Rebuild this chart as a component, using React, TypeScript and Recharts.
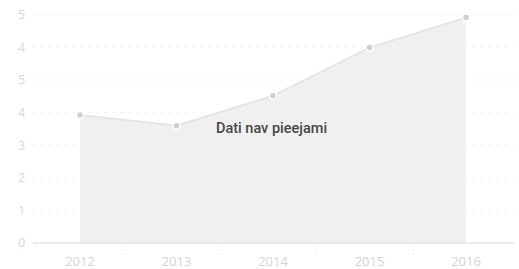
import { AreaChart, Area, XAxis, YAxis, CartesianGrid } from 'recharts';

const years = ['2012', '2013', '2014', '2015', '2016'];
const values = [3.93, 3.6, 4.52, 6.0, 6.92];
const yTicks = [0, 1, 2, 3, 4, 5, 6, 7];
const yTickLabels = ['0', '1', '2', '3', '4', '5', '4', '5'];
const message = 'Dati nav pieejami';

const data = years.map((year, i) => ({ year, value: values[i] }));

const W = 519;
const H = 269;

interface TickProps {
  x?: number;
  y?: number;
  index?: number;
  payload?: { value: string };
}

function YearTick({ x = 0, y = 0, index = 0, payload }: TickProps) {
  const step = 96.2;
  const last = index === years.length - 1;
  const sx = x + step / 2 - 4;
  return (
    <g>
      <text x={x} y={y + 15} textAnchor="middle" fontSize={13} fill="#d4d4d4"
        fontFamily="'Open Sans', sans-serif">
        {payload?.value}
      </text>
      {!last && (
        <line x1={sx} x2={sx} y1={y - 6} y2={y + 6} stroke="#e0e0e0" strokeDasharray="1 3" />
      )}
    </g>
  );
}

export default function App() {
  return (
    <div style={{ position: 'relative', width: W, height: H }}>
      <style>{'body{margin:0}'}</style>
      <AreaChart width={W} height={H} data={data} margin={{ top: 15, right: 5, left: 0, bottom: 0 }}>
        <CartesianGrid vertical={false} stroke="#e9e9e9" strokeDasharray="2 6" />
        <XAxis
          dataKey="year"
          height={26}
          axisLine={{ stroke: '#e6e6e6', strokeWidth: 1.5 }}
          tickLine={false}
          padding={{ left: 47, right: 48 }}
          interval={0}
          tick={<YearTick />}
        />
        <YAxis
          width={33}
          domain={[0, 7]}
          ticks={yTicks}
          interval={0}
          axisLine={false}
          tickLine={false}
          tick={{ fontSize: 12, fill: '#d8d8d8', fontFamily: "'Open Sans', sans-serif" }}
          tickFormatter={(v: number) => yTickLabels[yTicks.indexOf(v)] ?? ''}
        />
        <Area
          type="linear"
          dataKey="value"
          stroke="#e4e4e4"
          strokeWidth={2}
          fill="#f0f0f0"
          fillOpacity={1}
          dot={{ r: 3.5, fill: '#cfcfcf', stroke: '#ffffff', strokeWidth: 1.5 }}
          activeDot={false}
          isAnimationActive={false}
        />
      </AreaChart>
      <div style={{
        position: 'absolute', left: 0, width: W, top: 120, textAlign: 'center',
        paddingLeft: 24, boxSizing: 'border-box',
        fontFamily: 'Roboto, sans-serif', fontWeight: 500, fontSize: 14.5, color: '#474747',
      }}>
        {message}
      </div>
    </div>
  );
}
